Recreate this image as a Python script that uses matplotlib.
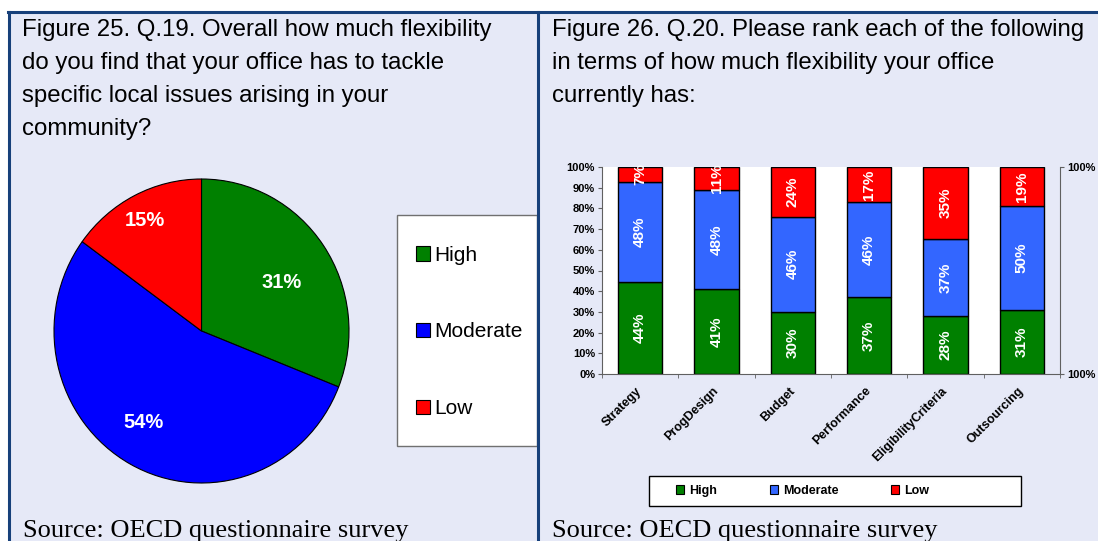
import numpy as np
import matplotlib
matplotlib.use("Agg")
import matplotlib.pyplot as plt
from matplotlib.patches import Patch, Rectangle
from matplotlib.lines import Line2D

# data
pie_labels = ["High", "Moderate", "Low"]
pie_values = [31, 54, 15]
categories = ["Strategy", "ProgDesign", "Budget", "Performance",
              "EligibilityCriteria", "Outsourcing"]
high = [44, 41, 30, 37, 28, 31]
moderate = [48, 48, 46, 46, 37, 50]
low = [7, 11, 24, 17, 35, 19]
y_ticks = list(range(0, 101, 10))
right_ticks = [0, 100]
right_tick_labels = ["100%", "100%"]

left_title = ["Figure 25. Q.19. Overall how much flexibility",
              "do you find that your office has to tackle",
              "specific local issues arising in your",
              "community?"]
right_title = ["Figure 26. Q.20. Please rank each of the following",
               "in terms of how much flexibility your office",
               "currently has:"]
source = "Source: OECD questionnaire survey"

pie_colors = ["#008000", "#0000FF", "#FF0000"]
bar_colors = ["#008000", "#3366FF", "#FF0000"]
bg = "#E6E9F7"
navy = "#17407A"
W, H = 1098, 541

def fx(x):
    return x / W

def fy(y):
    return 1 - y / H

def box(l, t, r, b):
    return [fx(l), fy(b), fx(r) - fx(l), fy(t) - fy(b)]

sans = ["Liberation Sans", "DejaVu Sans"]
serif = ["Liberation Serif", "DejaVu Serif"]

fig = plt.figure(figsize=(W / 100, H / 100), dpi=100, facecolor="white")

# panel background (behind the axes)
fig.patches.append(Rectangle((fx(9), 0), 1 - fx(9), fy(12), transform=fig.transFigure,
                             facecolor=bg, edgecolor="none", zorder=-2))

# ---- left panel: pie ----
cx, cy, rx, ry = 201.5, 331, 147.5, 152
axp = fig.add_axes(box(cx - 1.25 * rx, cy - 1.25 * ry, cx + 1.25 * rx, cy + 1.25 * ry))
wedges, _ = axp.pie(pie_values, colors=pie_colors, startangle=90, counterclock=False,
                    wedgeprops=dict(edgecolor="black", linewidth=0.8))
axp.set_aspect("auto")
axp.set_xlim(-1.25, 1.25)
axp.set_ylim(-1.25, 1.25)
axp.axis("off")
# label radius and small angular nudge (deg), like Excel's best-fit placement
label_r = [0.63, 0.72, 0.82]
label_shift = [-4, -4, 1]
for w, v, r, d in zip(wedges, pie_values, label_r, label_shift):
    ang = np.deg2rad((w.theta1 + w.theta2) / 2 + d)
    axp.text(r * np.cos(ang), r * np.sin(ang), f"{v}%", ha="center", va="center",
             color="white", fontweight="bold", fontsize=14.5, family=sans)

# left legend box
fig.patches.append(Rectangle((fx(397), fy(446)), fx(537) - fx(397), fy(215) - fy(446),
                             transform=fig.transFigure, facecolor="white",
                             edgecolor="#707070", linewidth=1, zorder=1))
handles = [Patch(facecolor=c, edgecolor="black", linewidth=0.8) for c in pie_colors]
fig.legend(handles, pie_labels, loc="center left", bbox_to_anchor=(fx(416), fy(332)),
           frameon=False, borderpad=0, borderaxespad=0, handlelength=0.67,
           handleheight=0.67, handletextpad=0.2, labelspacing=2.77,
           prop=dict(family=sans, size=15))

# ---- right panel: stacked bars ----
ax = fig.add_axes(box(602, 167, 1060, 374))
ax.set_facecolor("none")
x = np.arange(len(categories))
vals = np.array([high, moderate, low], dtype=float)
shares = vals / vals.sum(axis=0) * 100
bw = 0.58
ax.axvspan(-0.5, x[-1] + bw / 2, color="white", zorder=0)
bottom = np.zeros(len(categories))
for k in range(3):
    ax.bar(x, shares[k], bw, bottom=bottom, color=bar_colors[k], edgecolor="black",
           linewidth=1, zorder=2)
    for i in x:
        ax.text(i, bottom[i] + shares[k][i] / 2, f"{int(vals[k][i])}%", rotation=90,
                ha="center", va="center", color="white", fontweight="bold",
                fontsize=11, family=sans, zorder=3, clip_on=False)
    bottom += shares[k]

ax.set_xlim(-0.5, len(categories) - 0.5)
ax.set_ylim(0, 100)
ax.set_yticks(y_ticks)
ax.set_yticklabels([f"{t}%" for t in y_ticks], fontweight="bold", fontsize=8, family=sans)
ax.set_xticks(x)
ax.set_xticklabels(categories, rotation=45, ha="right", va="center",
                   rotation_mode="anchor", fontweight="bold", fontsize=9, family=sans)
ax.set_xticks(np.arange(-0.5, len(categories)), minor=True)
ax.tick_params(axis="x", which="major", length=0, pad=11)
ax.tick_params(axis="x", which="minor", length=3, color="#606060", direction="out")
ax.tick_params(axis="y", length=3, color="#606060", pad=2)
for s in ["top", "right"]:
    ax.spines[s].set_visible(False)
for s in ["left", "bottom"]:
    ax.spines[s].set_color("#606060")

ax2 = ax.twinx()
ax2.set_ylim(0, 100)
ax2.set_yticks(right_ticks)
ax2.set_yticklabels(right_tick_labels, fontweight="bold", fontsize=8, family=sans)
ax2.tick_params(axis="y", length=3, color="#606060", pad=2)
for s in ["top", "left", "bottom"]:
    ax2.spines[s].set_visible(False)
ax2.spines["right"].set_color("#606060")

# bottom legend
fig.patches.append(Rectangle((fx(649), fy(506)), fx(1021) - fx(649), fy(476) - fy(506),
                             transform=fig.transFigure, facecolor="white",
                             edgecolor="black", linewidth=1, zorder=1))
handles2 = [Patch(facecolor=c, edgecolor="black", linewidth=0.8) for c in bar_colors]
fig.legend(handles2, pie_labels, loc="center left", bbox_to_anchor=(fx(676), fy(491)),
           ncol=3, frameon=False, borderpad=0, borderaxespad=0, handlelength=0.64,
           handleheight=0.64, handletextpad=0.4, columnspacing=4.24,
           prop=dict(family=sans, size=9, weight="bold"))

# titles and sources
for i, line in enumerate(left_title):
    fig.text(fx(22), fy(36 + 33 * i), line, family=sans, fontsize=17.3, va="baseline")
for i, line in enumerate(right_title):
    fig.text(fx(552), fy(36 + 33 * i), line, family=sans, fontsize=17.3, va="baseline")
fig.text(fx(23), fy(537), source, family=serif, fontsize=19, va="baseline")
fig.text(fx(552), fy(537), source, family=serif, fontsize=19, va="baseline")

# frame lines
lk = dict(color=navy, linewidth=2.2, transform=fig.transFigure, zorder=5)
fig.lines.extend([
    Line2D([fx(8), 1], [fy(12), fy(12)], **lk),
    Line2D([fx(9), fx(9)], [0, fy(12)], **lk),
    Line2D([fx(538), fx(538)], [0, fy(12)], **lk),
])

fig.savefig("out.png", dpi=100, facecolor="white")
